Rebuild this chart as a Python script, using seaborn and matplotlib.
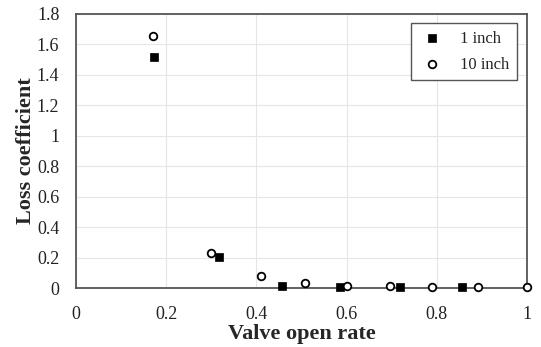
import numpy as np
import pandas as pd
import matplotlib.pyplot as plt
import seaborn as sns

sns.set_style('whitegrid')
plt.rcParams['font.family'] = ['Liberation Serif', 'DejaVu Serif']

# 1 inch valve
open_1in = [0.173, 0.317, 0.457, 0.586, 0.718, 0.856]
loss_1in = [1.515, 0.204, 0.012, 0.006, 0.005, 0.004]

# 10 inch valve
open_10in = [0.171, 0.299, 0.41, 0.508, 0.601, 0.696, 0.79, 0.891, 1.0]
loss_10in = [1.658, 0.232, 0.081, 0.033, 0.015, 0.01, 0.007, 0.005, 0.005]

df = pd.DataFrame({
    'Valve open rate': open_1in + open_10in,
    'Loss coefficient': loss_1in + loss_10in,
    'Size': ['1 inch'] * len(open_1in) + ['10 inch'] * len(open_10in),
})

fig = plt.figure(figsize=(5.41, 3.47), dpi=100)
ax = fig.add_axes([0.1405, 0.170, 0.8335, 0.7897])

sns.scatterplot(x='Valve open rate', y='Loss coefficient', data=df[df['Size'] == '1 inch'],
                marker='s', color='black', edgecolor='black', s=32, linewidth=0.5,
                label='1 inch', ax=ax, clip_on=False, zorder=3)
sns.scatterplot(x='Valve open rate', y='Loss coefficient', data=df[df['Size'] == '10 inch'],
                marker='o', facecolor='white', edgecolor='black', s=30, linewidth=1.3,
                label='10 inch', ax=ax, clip_on=False, zorder=4)

ax.set_xlim(0, 1)
ax.set_ylim(0, 1.8)
ax.set_xticks(np.arange(0, 1.01, 0.2))
ax.set_xticklabels(['0', '0.2', '0.4', '0.6', '0.8', '1'])
ax.set_yticks(np.arange(0, 1.81, 0.2))
ax.set_yticklabels(['0', '0.2', '0.4', '0.6', '0.8', '1', '1.2', '1.4', '1.6', '1.8'])
ax.tick_params(labelsize=13, length=0, colors='#222222')
ax.tick_params(axis='x', pad=13)
ax.tick_params(axis='y', pad=12)
ax.grid(color='#e6e6e6', linewidth=0.8)
for sp in ax.spines.values():
    sp.set_color('#555555')
    sp.set_linewidth(1.3)

ax.set_xlabel('Valve open rate', fontsize=16, fontweight='bold', labelpad=0.5)
ax.set_ylabel('Loss coefficient', fontsize=16, fontweight='bold', labelpad=0.5)

leg = ax.legend(loc='upper right', bbox_to_anchor=(0.997, 0.997), fontsize=12,
                fancybox=False, framealpha=1, edgecolor='#555555',
                handletextpad=0.9, borderpad=0.45, labelspacing=0.6,
                handlelength=1.6)
leg.get_frame().set_linewidth(1.0)

fig.savefig('out.png', dpi=100)
